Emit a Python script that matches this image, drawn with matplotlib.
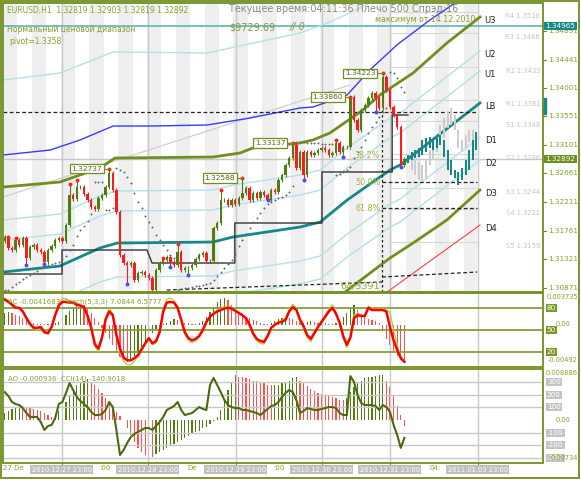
import matplotlib
matplotlib.use("Agg")
import matplotlib.pyplot as plt
import numpy as np
from matplotlib.patches import Rectangle

# ---------------- data ----------------
closes = [1.31668, 1.31496, 1.31465, 1.31621, 1.31543, 1.31652, 1.31340, 1.31512, 1.31543, 1.31465,
          1.31434, 1.31277, 1.31465, 1.31527, 1.31621, 1.31652, 1.31605, 1.31855, 1.32324, 1.32262,
          1.32449, 1.32449, 1.32340, 1.32246, 1.32137, 1.32105, 1.32277, 1.32324, 1.32449, 1.32668,
          1.32402, 1.32059, 1.31387, 1.31262, 1.31230, 1.31262, 1.30996, 1.31105, 1.31121, 1.31074,
          1.31027, 1.30840, 1.31152, 1.31262, 1.31309, 1.31355, 1.31277, 1.31230, 1.31434, 1.31152,
          1.31184, 1.31184, 1.31230, 1.31324, 1.31387, 1.31418, 1.31293, 1.31293, 1.31809, 1.31887,
          1.32246, 1.32246, 1.32168, 1.32246, 1.32184, 1.32277, 1.32355, 1.32434, 1.32246, 1.32355,
          1.32277, 1.32371, 1.32324, 1.32246, 1.32402, 1.32371, 1.32559, 1.32637, 1.32793, 1.32902,
          1.33105, 1.32746, 1.32996, 1.32637, 1.32996, 1.32949, 1.32980, 1.33027, 1.33059, 1.33027,
          1.32949, 1.32980, 1.33137, 1.32996, 1.33074, 1.33074, 1.33855, 1.33496, 1.33340, 1.33652,
          1.33730, 1.33840, 1.33918, 1.33840, 1.33684, 1.34168, 1.33965, 1.33699, 1.33574, 1.33387,
          1.32793, 1.32892]
first_open = 1.31600

frac_up = {1: 1.31668, 3: 1.31652, 18: 1.32496, 20: 1.32559, 29: 1.32737, 44: 1.31340,
           48: 1.31559, 60: 1.32402, 66: 1.32588, 80: 1.33137, 92: 1.33184, 96: 1.33860,
           105: 1.34223}
frac_dn = {6: 1.31230, 11: 1.31246, 34: 1.30934, 46: 1.31199, 51: 1.31074, 73: 1.32246,
           83: 1.32559, 94: 1.32918, 103: 1.33621, 110: 1.32762}
label_bars = [29, 66, 80, 96, 105]

sar = [1.30840, 1.30840, 1.30887, 1.30934, 1.30965, 1.31012, 1.31043, 1.31074, 1.31105, 1.31137,
       1.31184, 1.31215, 1.31230, 1.31246, 1.31262, 1.31277, 1.31324, 1.31371, 1.31465, 1.31543,
       1.31684, 1.31777, 1.31840, 1.31918, 1.32027, 1.32527, 1.32527, 1.32527, 1.32090, 1.32090,
       1.32121, 1.32746, 1.32715, 1.32684, 1.32605, 1.32512, 1.32355, 1.32215, 1.32121, 1.31996,
       1.31902, 1.31824, 1.31699, 1.31621, 1.31543, 1.31465, 1.31387, 1.31340, 1.30840, 1.30855,
       1.30871, 1.30871, 1.30887, 1.30902, 1.30902, 1.30918, 1.30934, 1.30949, 1.30996, 1.31059,
       1.31121, 1.31184, 1.31246, 1.31309, 1.31402, 1.31527, 1.31621, 1.31715, 1.31809, 1.31902,
       1.31965, 1.32043, 1.32121, 1.32184, 1.32215, 1.32246, 1.32277, 1.32293, 1.32324, 1.32371,
       1.32465, 1.33152, 1.33152, 1.33146, 1.33140, 1.33137, 1.33133, 1.33130, 1.33127, 1.33124,
       1.33121, 1.33121, 1.32637, 1.32660, 1.32684, 1.32715, 1.32762, 1.32902, 1.32996, 1.33074,
       1.33184, 1.33293, 1.33387, 1.33465, 1.33543, 1.33621, 1.33684, 1.34246, 1.34230, 1.34152,
       1.34012, 1.33934]

# indicator / channel lines: (bar, price) vertices
blue_x = [-0.5, 12.6, 20.9, 30.1, 40.3, 56.2, 68.1, 82.0, 85.6, 95.1, 101.4, 108.9, 118.1, 125.1]
blue_y = [1.32949, 1.33027, 1.33184, 1.33402, 1.33402, 1.33418, 1.33527, 1.33684, 1.33699,
          1.33887, 1.34277, 1.34668, 1.35059, 1.35324]
band_x = [-0.5, 15.3, 30.1, 56.2, 82.0, 90.3, 98.7, 102.8]
band_y = [1.34121, 1.34230, 1.34559, 1.34543, 1.34855, 1.35027, 1.35246, 1.35371]
trend_x = [-0.5, 95.9]
trend_y = [1.32293, 1.34043]
u3_x = [-0.5, 15.3, 26.4, 30.6, 57.8, 65.3, 68.9, 82.0, 85.6, 90.3, 99.5, 104.2, 113.4, 122.8, 132.0]
u3_y = [1.32449, 1.32527, 1.32746, 1.32902, 1.32918, 1.32980, 1.33059, 1.33137, 1.33184,
        1.33293, 1.33652, 1.33887, 1.34230, 1.34699, 1.35105]
ch_x = [-0.5, 15.3, 26.4, 31.2, 57.8, 63.4, 82.0, 87.6, 95.1, 107.0, 109.8, 132.0]
lb_y = [1.31121, 1.31215, 1.31496, 1.31574, 1.31590, 1.31668, 1.31824, 1.31902, 1.32246,
        1.32715, 1.32793, 1.33762]
u2_y = [1.31934, 1.32027, 1.32309, 1.32387, 1.32402, 1.32480, 1.32637, 1.32715, 1.33059,
        1.33527, 1.33605, 1.34574]
u1_y = [1.31621, 1.31715, 1.31996, 1.32074, 1.32090, 1.32168, 1.32324, 1.32402, 1.32746,
        1.33215, 1.33293, 1.34262]
d1_y = [1.30590, 1.30684, 1.30965, 1.31043, 1.31059, 1.31137, 1.31293, 1.31371, 1.31715,
        1.32184, 1.32262, 1.33230]
d2_y = [1.30230, 1.30324, 1.30605, 1.30684, 1.30699, 1.30777, 1.30934, 1.31012, 1.31355,
        1.31824, 1.31902, 1.32871]
d3_x = [94.5, 107.0, 113.4, 122.8, 132.0]
d3_y = [1.30809, 1.31340, 1.31574, 1.31934, 1.32402]
d4_x = [106.2, 132.0]
d4_y = [1.30809, 1.31855]
step_x = [-0.5, 15.9, 15.9, 39.5, 40.9, 63.9, 63.9, 88.1, 88.1, 107.6, 107.6, 112.0]
step_y = [1.31090, 1.31090, 1.31465, 1.31465, 1.31262, 1.31262, 1.31887, 1.31887, 1.32684,
          1.32684, 1.33574, 1.33574]

# projected bars
teal_hi = [1.32949, 1.32996, 1.33027, 1.33059, 1.33184, 1.33215, 1.33230, 1.33184, 1.33215, 1.33262,
           1.33184, 1.33027, 1.32871, 1.32715, 1.32684, 1.32746, 1.32871, 1.33027, 1.33184, 1.33309]
teal_lo = [1.32824, 1.32871, 1.32902, 1.32918, 1.32949, 1.32996, 1.33059, 1.33027, 1.33059, 1.33105,
           1.32918, 1.32715, 1.32637, 1.32590, 1.32480, 1.32559, 1.32637, 1.32715, 1.32871, 1.33027]
gray_hi = [1.32902, 1.32871, 1.32840, 1.32793, 1.32871, 1.33027, 1.33105, 1.33215, 1.33418,
           1.33527, 1.33621, 1.33684, 1.33574, 1.33340, 1.33184, 1.33262, 1.33340, 1.33340]
gray_lo = [1.32715, 1.32637, 1.32559, 1.32527, 1.32590, 1.32793, 1.32871, 1.32996, 1.33105,
           1.33215, 1.33371, 1.33418, 1.33340, 1.33059, 1.32996, 1.33059, 1.33152, 1.33184]

pivot_names = ['R4', 'R3', 'R2', 'R1', 'S1', 'S2', 'S3', 'S4', 'S5']
pivot_vals = [1.3518, 1.3486, 1.3433, 1.3381, 1.3348, 1.3296, 1.3244, 1.3211, 1.3159]
price_ticks = [1.34891, 1.34441, 1.34001, 1.33551, 1.33101, 1.32661, 1.32211, 1.31761, 1.31321, 1.30871]
bid = 1.32892
max_level = 1.34965
pivot_line = 1.3362
fib_levels = {'38.2%': 1.32949, '50.0%': 1.32527, '61.8%': 1.32121}

day_lines = [15.8, 39.7, 64.2, 88.1, 106.9, 131.4]
day_labels = ['2010.12.27 23:00', '2010.12.28 23:00', '2010.12.29 23:00',
              '2010.12.30 23:00', '2010.12.31 23:00', '2011.01.03 23:00']

ac = np.array([14.0, 15.2, 14.0, 11.7, 10.5, 8.2, 5.9, 3.5, 2.3, 1.2,
               1.2, 0.6, 1.2, 1.2, 2.3, 3.5, 8.2, 11.7, 16.4, 19.9,
               22.2, 23.4, 23.4, 19.9, 14.0, 8.2, 3.5, -3.5, -9.4, -16.4,
               -23.4, -30.4, -37.4, -42.1, -43.3, -41.0, -36.3, -31.6, -25.7, -19.9,
               -14.0, -9.4, -4.7, -1.2, 1.2, 2.3, 4.7, 7.0, 5.9, 3.5,
               2.3, 1.8, 1.2, 1.2, 2.3, 4.7, 9.4, 15.2, 21.1, 26.9,
               30.4, 31.6, 29.3, 23.4, 17.6, 14.0, 11.7, 9.4, 8.2, 5.9,
               4.7, 2.3, 1.2, 1.2, 2.3, 4.7, 7.0, 8.2, 9.4, 8.2,
               7.0, 4.7, 3.5, 2.3, 3.5, 4.7, 3.5, 2.3, 3.5, 2.3,
               1.2, 1.2, 2.3, 4.7, 9.4, 14.0, 19.9, 23.4, 17.6, 11.7,
               9.4, 7.0, 5.9, 4.7, 2.3, -7.0, -16.4, -23.4, -30.4, -36.3,
               -41.0, -41.7]) * 1e-4
stoch_main = [91, 88, 84, 80, 80, 75, 66, 58, 53, 53,
              54, 47, 46, 54, 70, 83, 88, 88, 87, 87,
              84, 83, 81, 69, 53, 31, 25, 40, 64, 75,
              70, 43, 25, 13, 9, 9, 12, 16, 24, 32,
              39, 32, 35, 47, 75, 87, 88, 87, 80, 64,
              47, 39, 36, 38, 42, 50, 61, 68, 72, 75,
              77, 79, 80, 79, 76, 73, 70, 66, 57, 45,
              38, 35, 34, 42, 53, 57, 60, 61, 64, 75,
              81, 77, 64, 55, 43, 38, 46, 54, 61, 68,
              75, 80, 72, 60, 42, 30, 40, 66, 70, 69,
              69, 80, 77, 77, 77, 77, 75, 54, 36, 23,
              12, 7.08]
stoch_sig = [93, 90, 86, 82, 79, 76, 68, 60, 54, 50,
             52, 46, 44, 52, 72, 86, 93, 92, 89, 88,
             86, 84, 82, 72, 52, 28, 20, 36, 66, 80,
             72, 42, 20, 8, 3, 3, 8, 14, 22, 30,
             38, 30, 32, 46, 78, 92, 93, 90, 82, 62,
             45, 36, 33, 35, 40, 48, 60, 68, 73, 77,
             79, 82, 83, 81, 77, 74, 70, 65, 55, 43,
             35, 32, 31, 40, 52, 58, 61, 63, 66, 78,
             85, 80, 64, 52, 40, 34, 44, 54, 62, 70,
             78, 84, 74, 58, 38, 26, 38, 70, 73, 71,
             68, 82, 80, 78, 79, 79, 77, 74, 50, 30,
             14, 6.58]
ao = np.array([121, 155, 190, 224, 259, 242, 224, 207, 190, 173, 155, 121, 86, 52,
               86, 155, 224, 311, 414, 518, 604, 656, 690, 708,
               656, 604, 535, 466, 380, 311, 224, 138, 69, 5,
               -138, -259, -380, -483, -552, -604, -621, -639,
               -587, -552, -518, -483, -449, -414, -380, -345, -311, -276, -242, -207,
               -173, -138, -104, -69, -17, 52,
               173, 345, 518, 656, 777,
               759, 742, 725, 708, 690, 673, 656, 639, 621, 604,
               613, 621, 639, 656, 690, 725, 742,
               690, 639, 587, 535, 501, 466, 449,
               432, 414, 397, 380, 362, 345,
               380, 483, 570, 639, 690, 725, 742, 759, 768, 777, 785,
               690, 570, 414, 242, 86, -94]) * 1e-5
cci = [220, 189, 142, 126, 118, 94, 55, 24, 24, 24,
       -16, -79, -47, -39, 16, 126, 142, 213, 291, 236,
       181, 150, 126, 102, 63, 39, 39, 47, 79, 142,
       102, -79, -276, -236, -181, -134, -110, -94, -79, -63,
       -63, -79, -47, -16, 24, 79, 94, 110, 142, 79,
       39, 47, 55, 79, 102, 87, 79, 276, 331, 276,
       220, 157, 118, 102, 94, 94, 79, 79, 71, 63,
       55, 39, 63, 87, 110, 118, 142, 181, 213, 236,
       220, 157, 55, 71, 94, 87, 79, 79, 87, 94,
       102, 102, 94, 55, 39, 39, 346, 299, 197, 134,
       118, 118, 118, 110, 79, 118, 102, 63, -39, -118,
       -220, -140.9]

# ---------------- style ----------------
OLIVE = '#6f8f1f'
OLIVE_T = '#86a030'
TEAL = '#168888'
GREEN_C = '#4f7d10'
RED_C = '#ff1a1a'
CYAN = '#b4e0e8'
GRID = '#c8c8c8'
STRIPE = '#efefef'

W, H = 581, 480
fig = plt.figure(figsize=(W / 100, H / 100), dpi=100)
fig.patch.set_facecolor('white')


def px_axes(x0, y0, x1, y1):
    a = fig.add_axes([x0 / W, 1 - y1 / H, (x1 - x0) / W, (y1 - y0) / H])
    a.axis('off')
    return a


XL = (-0.5, 149.5)

# ---------------- main price panel ----------------
ax = px_axes(3, 3, 543, 292)
ax.set_xlim(*XL)
ax.set_ylim(1.30809, 1.35324)

for s in np.arange(-0.5, 131, 8):
    ax.axvspan(s, min(s + 4, 131.2), color=STRIPE, lw=0, zorder=0)
for d in day_lines:
    ax.axvline(d, color=GRID, lw=1, zorder=1)

ax.axhline(max_level, color='#5cb8b8', lw=1.2, zorder=2)
ax.plot([-0.5, 149.5], [bid, bid], color=GRID, lw=1, zorder=2)
for v in pivot_vals:
    ax.plot([107, 131.2], [v, v], color='#d8d8d8', lw=0.8, zorder=2)

ax.plot(band_x, band_y, color=CYAN, lw=1, zorder=3)
for yy in (u2_y, u1_y, d1_y, d2_y):
    ax.plot(ch_x, yy, color=CYAN, lw=1, zorder=3)
ax.plot(trend_x, trend_y, color='#cfcfcf', lw=0.9, zorder=3)
ax.plot(blue_x, blue_y, color='#3a3aff', lw=1, zorder=3)
ax.plot(u3_x, u3_y, color=OLIVE, lw=2, zorder=4)
ax.plot(d3_x, d3_y, color=OLIVE, lw=2, zorder=4)
ax.plot(ch_x, lb_y, color=TEAL, lw=2, zorder=4)
ax.plot(d4_x, d4_y, color='#ff4040', lw=0.8, zorder=4)
ax.plot(step_x, step_y, color='#333333', lw=1, zorder=4)

# dashed levels
dash = (0, (3, 2))
ax.plot([-0.5, 131.2], [pivot_line, pivot_line], color='#222222', lw=0.9, ls=dash, zorder=5)
for name, v in fib_levels.items():
    if name != '38.2%':
        ax.plot([104.8, 131.2], [v, v], color='#222222', lw=0.9, ls=dash, zorder=5)
ax.plot([104.8, 104.8], [1.30809, 1.33652], color='#222222', lw=0.9, ls=(0, (2, 2)), zorder=5)
ax.plot([45, 104.8], [1.30840, 1.30965], color='#222222', lw=0.9, ls=dash, zorder=5)
ax.plot([104.8, 131.2], [1.31043, 1.31121], color='#222222', lw=0.9, ls=dash, zorder=5)

# projected bars
ax.bar(np.arange(113, 113 + len(gray_hi)), np.array(gray_hi) - np.array(gray_lo),
       bottom=gray_lo, width=0.6, color='#cccccc', zorder=5)
ax.bar(np.arange(112, 112 + len(teal_hi)), np.array(teal_hi) - np.array(teal_lo),
       bottom=teal_lo, width=0.6, color=TEAL, zorder=6)

# candles
opens = [first_open] + closes[:-1]
for i, (o, c) in enumerate(zip(opens, closes)):
    hi = frac_up.get(i, max(o, c) + 0.0003)
    lo = frac_dn.get(i, min(o, c) - 0.0003)
    col = GREEN_C if c >= o else RED_C
    ax.vlines(i, lo, hi, color=col, lw=0.8, zorder=7)
    ax.bar(i, max(abs(c - o), 0.00006), bottom=min(o, c), width=0.62, color=col, zorder=7)

ax.scatter(np.arange(len(sar)), sar, s=1.6, color='#6a6a6a', marker='D', lw=0, zorder=8)
ax.scatter(list(frac_up.keys()), list(frac_up.values()), s=8, color='#ff2020', lw=0, zorder=9)
ax.scatter(list(frac_dn.keys()), list(frac_dn.values()), s=8, color='#4848ff', lw=0, zorder=9)

for b in label_bars:
    p = frac_up[b]
    ax.plot([b - 2, b], [p, p], color=OLIVE, lw=0.8, zorder=9)
    ax.text(b - 2, p, f'{p:.5f}', ha='right', va='center', fontsize=5.4, color='#55691a',
            zorder=10, bbox=dict(boxstyle='square,pad=0.25', fc='white', ec=OLIVE, lw=0.9))

for name, v in fib_levels.items():
    ax.text(104.3, v, name, ha='right', va='center', fontsize=5.8, color='#9cb840', zorder=10)
ax.text(104.3, 1.30902, '64/3391', ha='right', va='center', fontsize=6.8, color='#8ea838', zorder=10)

# channel names and pivot labels
ch_names = ['U3', 'U2', 'U1', 'LB', 'D1', 'D2', 'D3', 'D4']
ch_ends = [u3_y[-1], u2_y[-1], u1_y[-1], lb_y[-1], d1_y[-1], d2_y[-1], d3_y[-1], d4_y[-1]]
for n, v in zip(ch_names, ch_ends):
    ax.text(133.3, v - 0.0006, n, ha='left', va='center', fontsize=6, color='#222222', zorder=10)
for n, v in zip(pivot_names, pivot_vals):
    ax.text(148.7, v - 0.00015, f'{n} {v:.4f}', ha='right', va='top', fontsize=4.9,
            color='#c4c4c4', zorder=10)

# right price scale
for p in price_ticks:
    ax.plot([149.5, 150.3], [p, p], color=OLIVE, lw=0.8, clip_on=False)
    ax.text(150.8, p, f'{p:.5f}', ha='left', va='center', fontsize=5.2, color=OLIVE_T)
ax.text(150.2, max_level, f'{max_level:.5f}', ha='left', va='center', fontsize=5.2, color='white',
        bbox=dict(boxstyle='square,pad=0.15', fc=TEAL, ec='none'))
ax.text(150.2, bid, f'{bid:.5f}', ha='left', va='center', fontsize=5.2, color='white',
        bbox=dict(boxstyle='square,pad=0.15', fc=OLIVE, ec='none'))
ax.add_patch(Rectangle((149.4, 1.3359), 0.9, 0.0025, color=TEAL, clip_on=False))

# ---------------- AC + Stochastic panel ----------------
ax_ac = px_axes(3, 293, 543, 367)
ax_ac.set_xlim(*XL)
ax_ac.set_ylim(-0.00492, 0.003735)
for d in day_lines:
    ax_ac.axvline(d, color=GRID, lw=1)
ac_col = [GREEN_C if i == 0 or ac[i] > ac[i - 1] else '#ff5050' for i in range(len(ac))]
ax_ac.bar(np.arange(len(ac)), ac, width=0.35, color=ac_col)

ax_st = ax_ac.twinx()
ax_st.axis('off')
ax_st.set_xlim(*XL)
ax_st.set_ylim(0, 100)
for lv in (80, 50, 20):
    ax_st.axhline(lv, color='#7a9a28', lw=1.2)
    ax_st.text(150.6, lv, str(lv), ha='left', va='center', fontsize=5.2, color='white',
               bbox=dict(boxstyle='square,pad=0.15', fc='#7a9a28', ec='none'))
ax_st.plot(np.arange(len(stoch_sig)), stoch_sig, color='#a8d040', lw=0.9)
ax_st.plot(np.arange(len(stoch_main)), stoch_main, color='#ff0000', lw=1.8)

# ---------------- AO + CCI panel ----------------
ax_ao = px_axes(3, 369, 543, 463)
ax_ao.set_xlim(*XL)
ax_ao.set_ylim(-0.00734, 0.008886)
for d in day_lines:
    ax_ao.axvline(d, color=GRID, lw=1)
ao_col = [GREEN_C if i == 0 or ao[i] > ao[i - 1] else '#ff5050' for i in range(len(ao))]
ax_ao.bar(np.arange(len(ao)), ao, width=0.35, color=ao_col)

ax_cci = ax_ao.twinx()
ax_cci.axis('off')
ax_cci.set_xlim(*XL)
ax_cci.set_ylim(-339, 402)
for lv in (300, 200, 100, -100, -200, -300):
    ax_cci.axhline(lv, color=GRID, lw=1)
ax_cci.plot(np.arange(len(cci)), cci, color='#4a6a10', lw=1.5)

# ---------------- overlay: frames and captions (pixel coords) ----------------
ov = fig.add_axes([0, 0, 1, 1])
ov.set_xlim(0, W)
ov.set_ylim(H, 0)
ov.axis('off')
ov.patch.set_alpha(0)

for (x0, y0, x1, y1) in [(1, 1, 579, 478), (3, 3, 543, 292), (3, 293, 543, 367), (3, 369, 543, 463)]:
    ov.add_patch(Rectangle((x0, y0), x1 - x0, y1 - y0, fill=False, ec=OLIVE, lw=1.3))

# sub-window scale ends
ov.text(578, 297, '0.003735', ha='right', va='center', fontsize=4.8, color=OLIVE_T)
ov.text(556, 324, '0.00', ha='left', va='center', fontsize=4.8, color=OLIVE_T)
ov.text(578, 360, '-0.00492', ha='right', va='center', fontsize=4.8, color=OLIVE_T)
ov.text(578, 373, '0.008886', ha='right', va='center', fontsize=4.8, color=OLIVE_T)
ov.text(556, 420, '0.00', ha='left', va='center', fontsize=4.8, color=OLIVE_T)
ov.text(578, 458, '0.00734', ha='right', va='center', fontsize=4.8, color=OLIVE_T)
for lv in (300, 200, 100, -100, -200, -300):
    ax_cci.text(150.6, lv, str(lv), ha='left', va='center', fontsize=5.2, color='white',
                bbox=dict(boxstyle='square,pad=0.15', fc='#c4c4c4', ec='none'))

ov.text(7, 10, 'EURUSD,H1  1.32819 1.32903 1.32819 1.32892', fontsize=5.5, color=OLIVE_T, va='center')
ov.text(7, 30, 'Нормальный ценовой диапазон', fontsize=5.5, color=OLIVE_T, va='center')
ov.text(9, 41, 'pivot=1.3358', fontsize=5.5, color=OLIVE_T, va='center')
ov.text(229, 9, 'Текущее время:04:11:36 Плечо 500 Спрэд:16', fontsize=6.9, color='#8a8a80', va='center')
ov.text(229, 27, '$9729.69', fontsize=7, color='#8a9440', va='center')
ov.text(290, 27, '// 0', fontsize=7, color='#8a9440', va='center', style='italic')
ov.text(475, 19, 'максимум от 14.12.2010', fontsize=5.6, color=OLIVE_T, va='center', ha='right')

ov.text(8, 302, 'AC -0.0041683  Stoch(5,3,3) 7.0844 6.5777', fontsize=5, color=OLIVE_T, va='center')
ov.text(8, 379, 'AO -0.000936  CCI(14) -140.9018', fontsize=5, color=OLIVE_T, va='center')

# time axis
for frag, xp in [('27 De', 3), (':00', 99), ('De', 187), (':00', 273), ('04:', 429)]:
    ov.text(xp, 468, frag, fontsize=5, color='#8fa020', va='center')
for d, lab in zip(day_lines, day_labels):
    ax_ao.plot([d, d], [-0.00734, -0.0079], color=OLIVE, lw=0.8, clip_on=False)
    ax_ao.text(d, -0.0085, lab, ha='center', va='center', fontsize=4.9, color='white',
               bbox=dict(boxstyle='square,pad=0.2', fc='#c0c0c0', ec='none'))

fig.savefig('out.png', dpi=100, facecolor='white')
